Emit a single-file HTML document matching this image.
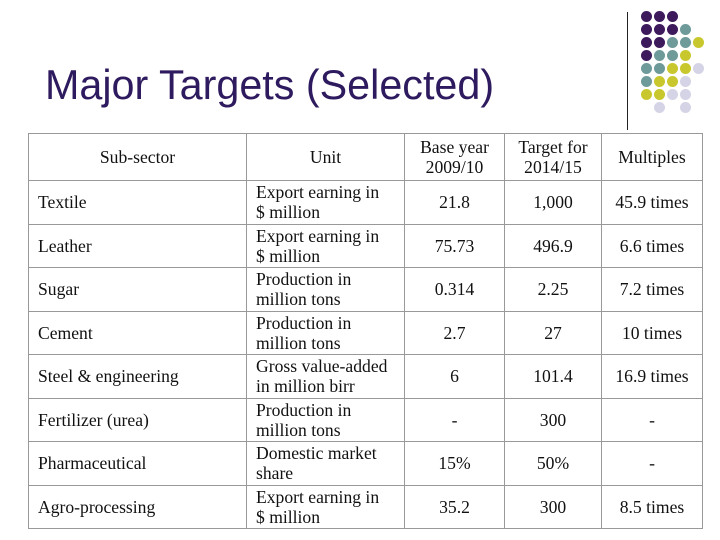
<!DOCTYPE html>
<html><head><meta charset="utf-8"><style>
body{margin:0;width:720px;height:540px;background:#fff;position:relative;overflow:hidden;font-family:"Liberation Serif",serif}
#title{position:absolute;left:45px;top:62px;font:41.3px "Liberation Sans",sans-serif;color:#2e1a5e;white-space:nowrap}
#vline{position:absolute;left:627px;top:12px;width:1px;height:118px;background:#222}
.dot{position:absolute;width:11px;height:11px;border-radius:50%}
table{position:absolute;left:28px;top:133px;border-collapse:collapse;font-size:17.6px;color:#111}
td{border:1px solid #999;padding:0;height:42.5px;line-height:20px}
td.c{text-align:center}
td.l{padding-left:9px}
td.u{padding-left:9px}
tr.h td{height:46px}
</style></head><body>
<div id="title">Major Targets (Selected)</div>
<div id="vline"></div>
<div id="dots"></div>
<table>
<colgroup><col style="width:218px"><col style="width:158px"><col style="width:100px"><col style="width:97px"><col style="width:101px"></colgroup>
<tr class="h"><td class="c">Sub-sector</td><td class="c">Unit</td><td class="c">Base year<br>2009/10</td><td class="c">Target for<br>2014/15</td><td class="c">Multiples</td></tr>
<tr><td class="l">Textile</td><td class="u">Export earning in<br>$ million</td><td class="c">21.8</td><td class="c">1,000</td><td class="c">45.9 times</td></tr>
<tr><td class="l">Leather</td><td class="u">Export earning in<br>$ million</td><td class="c">75.73</td><td class="c">496.9</td><td class="c">6.6 times</td></tr>
<tr><td class="l">Sugar</td><td class="u">Production in<br>million tons</td><td class="c">0.314</td><td class="c">2.25</td><td class="c">7.2 times</td></tr>
<tr><td class="l">Cement</td><td class="u">Production in<br>million tons</td><td class="c">2.7</td><td class="c">27</td><td class="c">10 times</td></tr>
<tr><td class="l">Steel &amp; engineering</td><td class="u">Gross value-added<br>in million birr</td><td class="c">6</td><td class="c">101.4</td><td class="c">16.9 times</td></tr>
<tr><td class="l">Fertilizer (urea)</td><td class="u">Production in<br>million tons</td><td class="c">-</td><td class="c">300</td><td class="c">-</td></tr>
<tr><td class="l">Pharmaceutical</td><td class="u">Domestic market<br>share</td><td class="c">15%</td><td class="c">50%</td><td class="c">-</td></tr>
<tr><td class="l">Agro-processing</td><td class="u">Export earning in<br>$ million</td><td class="c">35.2</td><td class="c">300</td><td class="c">8.5 times</td></tr>
</table>
<script>
const grid=["PPP","PPPT","PPTTY","PTTY","TTYYL","TYYL","YYLL"," L L"];
const colors={P:"#3d1a5c",T:"#6f9a9a",Y:"#c8c82e",L:"#d4d4e6"};
const box=document.getElementById('dots');
grid.forEach((row,r)=>{[...row].forEach((ch,c)=>{if(ch===' ')return;
const d=document.createElement('div');


d.className='dot';d.style.left=(641+c*13)+'px';d.style.top=(11+r*13)+'px';d.style.background=colors[ch];box.appendChild(d);});});
</script>
</body></html>
